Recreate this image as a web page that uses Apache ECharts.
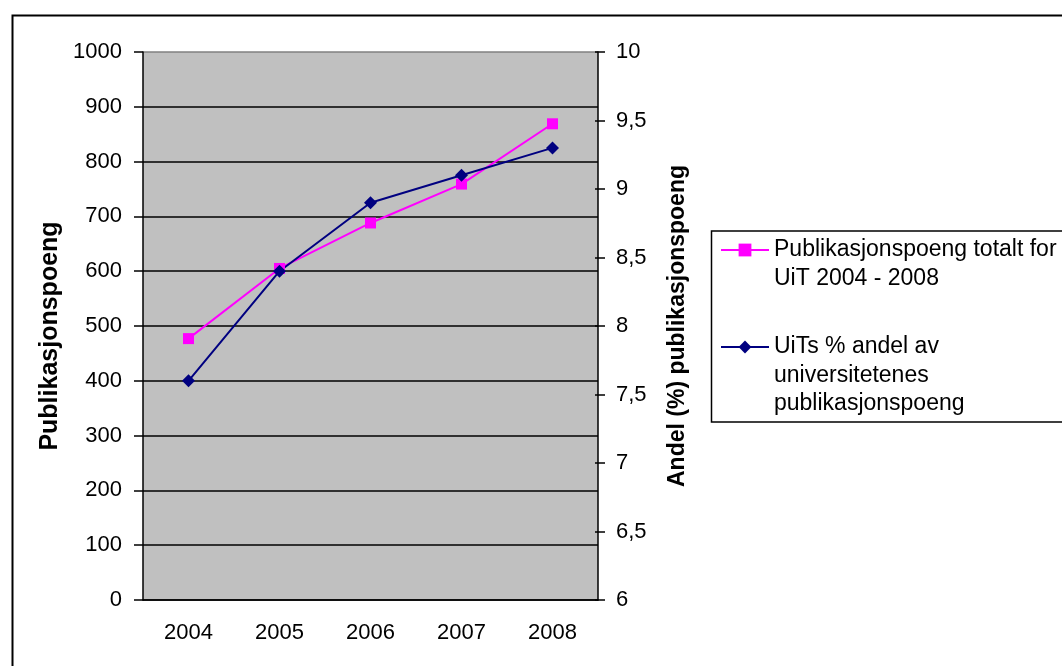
<!DOCTYPE html>
<html>
<head>
<meta charset="utf-8">
<script src="https://cdn.jsdelivr.net/npm/echarts@6/dist/echarts.min.js"></script>
<style>
html,body{margin:0;padding:0;background:#fff;}
#chart{width:1062px;height:666px;}
</style>
</head>
<body>
<div id="chart"></div>
<script>
// ---- data ----
const years = ['2004', '2005', '2006', '2007', '2008'];
const poeng = [477, 605, 688, 759, 869];          // Publikasjonspoeng (left axis)
const andel = [7.6, 8.4, 8.9, 9.1, 9.3];          // UiTs % andel (right axis)
const seriesNames = [
  'Publikasjonspoeng totalt for UiT 2004 - 2008',
  'UiTs % andel av universitetenes publikasjonspoeng'
];
const legendLines = [
  ['Publikasjonspoeng totalt for', 'UiT 2004 - 2008'],
  ['UiTs % andel av', 'universitetenes', 'publikasjonspoeng']
];
const leftAxisName = 'Publikasjonspoeng';
const rightAxisName = 'Andel (%) publikasjonspoeng';

const FONT = 'Liberation Sans, Arial, sans-serif';
const chart = echarts.init(document.getElementById('chart'));

const tickStyle = { color: '#000', width: 1.5 };
const splitColors = [];
for (let i = 0; i <= 10; i++) splitColors.push(i === 10 ? '#808080' : '#000');

function legendText(lines) {
  // leading blank lines so the marker lines up with the first text line
  const pad = new Array(lines.length - 1).fill('');
  return pad.concat(lines).join('\n');
}

const option = {
  backgroundColor: '#fff',
  animation: false,
  grid: {
    left: 143, right: 464, top: 52, bottom: 66,
    show: true, backgroundColor: '#C0C0C0', borderWidth: 0
  },
  xAxis: [{
    type: 'category', data: years, position: 'bottom',
    axisLine: { lineStyle: { color: '#000', width: 1.5 } },
    axisTick: { length: 7, lineStyle: tickStyle },
    axisLabel: { color: '#000', fontSize: 22, fontFamily: FONT, margin: 22 },
    splitLine: { show: false }
  }, {
    type: 'category', data: years, position: 'bottom',
    axisLine: { show: false },
    axisTick: { inside: true, length: 7, lineStyle: tickStyle },
    axisLabel: { show: false }, splitLine: { show: false }
  }],
  yAxis: [{
    type: 'value', min: 0, max: 1000, interval: 100, position: 'left',
    name: leftAxisName, nameLocation: 'middle', nameRotate: 90, nameGap: 80,
    nameTextStyle: { color: '#000', fontSize: 25, fontWeight: 'bold', fontFamily: FONT,
      padding: [0, 20, 0, 0] },
    axisLine: { show: true, lineStyle: { color: '#000', width: 1.5 } },
    axisTick: { show: true, length: 9, lineStyle: tickStyle },
    axisLabel: { color: '#000', fontSize: 22, fontFamily: FONT, margin: 21,
      formatter: v => String(v) },
    splitLine: { show: true, lineStyle: { color: splitColors, width: 1.5 } }
  }, {
    type: 'value', min: 6, max: 10, interval: 0.5, position: 'right',
    name: rightAxisName, nameLocation: 'middle', nameRotate: 90, nameGap: 68,
    nameTextStyle: { color: '#000', fontSize: 23, fontWeight: 'bold', fontFamily: FONT },
    axisLine: { show: true, lineStyle: { color: '#000', width: 1.5 } },
    axisTick: { show: true, length: 7, lineStyle: tickStyle },
    axisLabel: { color: '#000', fontSize: 22, fontFamily: FONT, margin: 18,
      formatter: v => String(v).replace('.', ',') },
    splitLine: { show: false }
  }, {
    type: 'value', min: 6, max: 10, interval: 0.5, position: 'right',
    axisLine: { show: false },
    axisTick: { show: true, inside: true, length: 3, lineStyle: tickStyle },
    axisLabel: { show: false }, splitLine: { show: false }
  }],
  legend: [{
    data: [seriesNames[0]], orient: 'vertical', left: 720, top: 206.5, padding: 0,
    itemWidth: 48, itemHeight: 16,
    textStyle: { color: '#000', fontSize: 23, lineHeight: 29, fontFamily: FONT },
    formatter: () => legendText(legendLines[0])
  }, {
    data: [seriesNames[1]], orient: 'vertical', left: 720, top: 275.75, padding: 0,
    itemWidth: 48, itemHeight: 16,
    textStyle: { color: '#000', fontSize: 23, lineHeight: 28.5, fontFamily: FONT },
    formatter: () => legendText(legendLines[1])
  }],
  graphic: [{
    type: 'rect', left: 10, top: 13, silent: true,
    shape: { width: 1100, height: 700 },
    style: { fill: 'none', stroke: '#000', lineWidth: 2 }
  }, {
    type: 'rect', left: 709, top: 228.5, silent: true,
    shape: { width: 400, height: 191 },
    style: { fill: 'none', stroke: '#000', lineWidth: 1.5 }
  }],
  series: [{
    name: seriesNames[0], type: 'line', data: poeng, yAxisIndex: 0,
    symbol: 'rect', symbolSize: 11,
    lineStyle: { color: '#FF00FF', width: 2 },
    itemStyle: { color: '#FF00FF' }
  }, {
    name: seriesNames[1], type: 'line', data: andel, yAxisIndex: 1,
    symbol: 'diamond', symbolSize: 13,
    lineStyle: { color: '#000080', width: 2 },
    itemStyle: { color: '#000080' }
  }]
};
chart.setOption(option);
</script>
</body>
</html>
